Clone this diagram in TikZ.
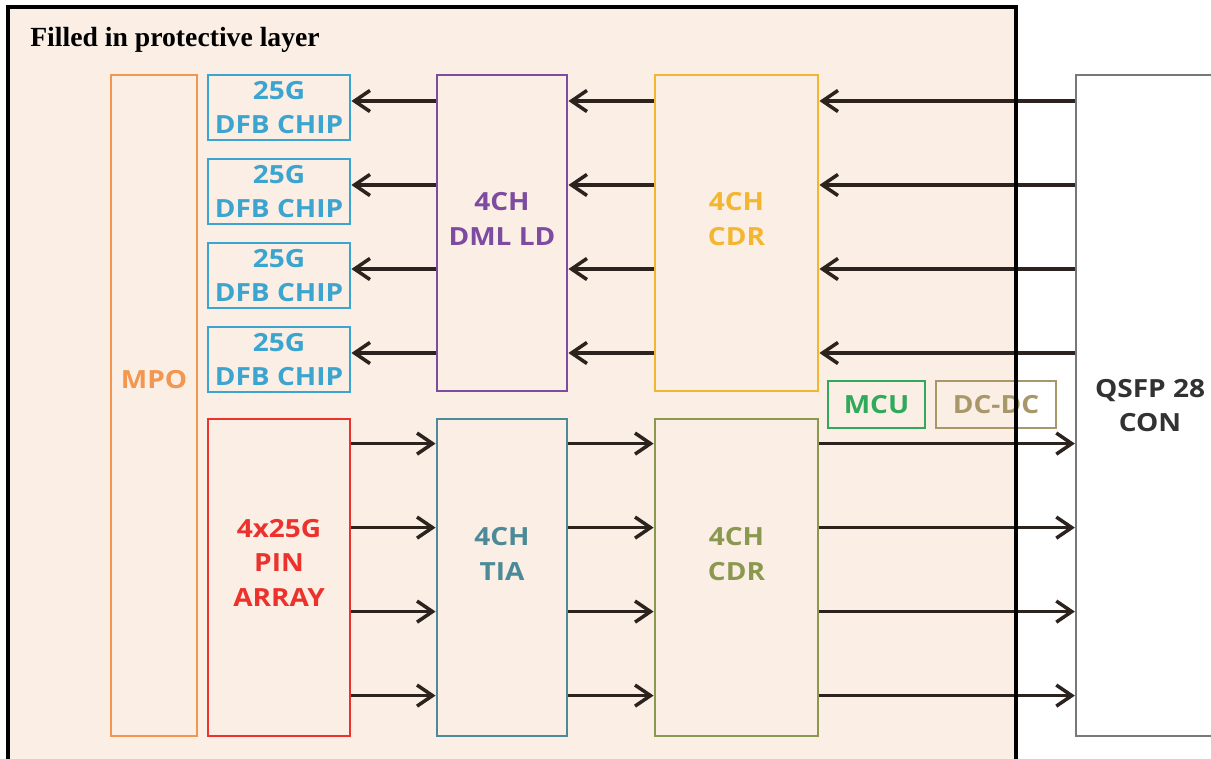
\documentclass[tikz,border=0pt]{standalone}
\usepackage{fontspec}
\setmainfont{Liberation Serif}
\setsansfont{Open Sans}[FakeStretch=1.12]
\usetikzlibrary{arrows.meta,positioning}
\definecolor{layerfill}{RGB}{251,238,229}
\definecolor{mpocol}{RGB}{242,150,80}
\definecolor{dfbcol}{RGB}{59,165,208}
\definecolor{dmlcol}{RGB}{125,75,160}
\definecolor{cdrtcol}{RGB}{243,182,48}
\definecolor{pincol}{RGB}{236,50,45}
\definecolor{tiacol}{RGB}{76,138,152}
\definecolor{cdrbcol}{RGB}{139,152,80}
\definecolor{mcucol}{RGB}{48,170,90}
\definecolor{dcdccol}{RGB}{168,152,105}
\definecolor{qsfpcol}{RGB}{120,120,120}
\definecolor{qsfptext}{RGB}{50,50,50}
\definecolor{arrowcol}{RGB}{45,35,30}

\begin{document}
\begin{tikzpicture}[>={Straight Barb[length=11pt,width=15pt]}]

  \tikzset{
    boxtxt/.style={font=\sffamily\bfseries\fontsize{17.8}{24.5}\selectfont,
                   align=center},
    blk/.style={draw=#1, text=#1, line width=2pt, inner sep=0pt, boxtxt},
    sig/.style={->, line width=2.5pt, arrowcol}
  }

  \useasboundingbox (0,0) rectangle (30.275,-18.975);

  % protective layer background
  \fill[layerfill] (0.2,-0.175) rectangle (25.4,-19.5);
  \node[font=\bfseries\fontsize{19.7}{24}\selectfont, anchor=base west,
        inner sep=0pt] (title) at (0.75,-1.175) {Filled in protective layer};

  % fibre side
  \node[blk=mpocol, minimum width=2.15cm, minimum height=16.525cm,
        label={[boxtxt, text=mpocol, yshift=0.66cm]center:MPO}]
    (mpo) at (3.85,-10.1375) {};

  % transmit chain
  \foreach \i/\y in {1/-2.6875, 2/-4.7875, 3/-6.8875, 4/-8.9875}
    \node[blk=dfbcol, minimum width=3.55cm, minimum height=1.625cm]
      (dfb\i) at (6.975,\y) {25G\\DFB CHIP};
  \node[blk=dmlcol, minimum width=3.25cm, minimum height=7.9cm,
        label={[boxtxt, text=dmlcol, yshift=0.35cm]center:{4CH\\DML LD}}]
    (dml) at (12.55,-5.825) {};
  \node[blk=cdrtcol, minimum width=4.075cm, minimum height=7.9cm,
        label={[boxtxt, text=cdrtcol, yshift=0.35cm]center:{4CH\\CDR}}]
    (cdrt) at (18.4125,-5.825) {};

  % receive chain
  \node[blk=pincol, minimum width=3.55cm, minimum height=7.925cm,
        label={[boxtxt, text=pincol, yshift=0.375cm]center:{4x25G\\PIN\\ARRAY}}]
    (pin) at (6.975,-14.4375) {};
  \node[blk=tiacol, minimum width=3.25cm, minimum height=7.925cm,
        label={[boxtxt, text=tiacol, yshift=0.59cm]center:{4CH\\TIA}}]
    (tia) at (12.55,-14.4375) {};
  \node[blk=cdrbcol, minimum width=4.075cm, minimum height=7.925cm,
        label={[boxtxt, text=cdrbcol, yshift=0.59cm]center:{4CH\\CDR}}]
    (cdrb) at (18.4125,-14.4375) {};

  % control and power
  \node[blk=mcucol, minimum width=2.425cm, minimum height=1.175cm]
    (mcu) at (21.9125,-10.1125) {MCU};
  \node[blk=dcdccol, minimum width=3.0cm, minimum height=1.175cm]
    (dcdc) at (24.9,-10.1125) {DC-DC};

  % connector
  \node[blk=qsfpcol, text=qsfptext, fill=white, line width=1.6pt,
        minimum width=3.7cm, minimum height=16.525cm]
    (qsfp) at (28.75,-10.1375) {QSFP 28\\CON};

  % TX lanes: connector -> CDR -> driver -> lasers
  \foreach \i in {1,...,4} {
    \coordinate (r\i) at ([yshift=0.1625cm]dfb\i.east);
    \draw[sig] (r\i -| qsfp.west) -- (r\i -| cdrt.east);
    \draw[sig] (r\i -| cdrt.west) -- (r\i -| dml.east);
    \draw[sig] (r\i -| dml.west) -- (r\i);
  }

  % RX lanes: photodiodes -> TIA -> CDR -> connector
  \foreach \i in {1,...,4} {
    \pgfmathsetmacro\dy{(26+84*(\i-1))/40}
    \coordinate (s\i) at ([yshift=-\dy cm]pin.north east);
    \draw[sig] (s\i) -- (s\i -| tia.west);
    \draw[sig] (s\i -| tia.east) -- (s\i -| cdrb.west);
    \draw[sig] (s\i -| cdrb.east) -- (s\i -| qsfp.west);
  }

  % protective layer outline
  \draw[black, line width=3pt] (0.2,-19.5) -- (0.2,-0.175)
    -- (25.4,-0.175) -- (25.4,-19.5);

\end{tikzpicture}
\end{document}
